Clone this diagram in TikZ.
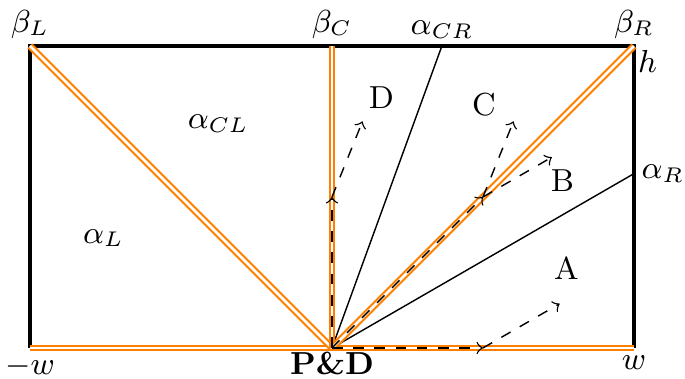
\documentclass[tikz,border=0pt]{standalone}
\usetikzlibrary{calc, arrows.meta}
\definecolor{wallor}{HTML}{FF8000}

\begin{document}
\begin{tikzpicture}[font=\small, >=to,
  wall/.style={draw=wallor, double=white, line width=0.6pt, double distance=0.75pt},
  ray/.style={line width=0.4pt},
  move/.style={dashed, line width=0.4pt, ->}]
\useasboundingbox (-3.298,-0.308) rectangle (3.507,3.457);

% corners and wall points
\coordinate (PD) at (0,0);
\coordinate (ML) at (-3,0);
\coordinate (MR) at (3,0);
\coordinate (BL) at (-3,3);
\coordinate (BC) at (0,3);
\coordinate (BR) at (3,3);
\coordinate (ACR) at ({3*tan(20)},3);
\coordinate (AR) at (3,{3*tan(30)});

% box
\draw[line width=0.9pt] (ML) -- (BL) -- (BR) -- (MR);

% rays
\draw[ray] (PD) -- (ACR);
\draw[ray] (PD) -- (AR);

% walls
\draw[wall] (ML) -- (MR);
\draw[wall] (PD) -- (BL);
\draw[wall] (PD) -- (BC);
\draw[wall] (PD) -- (BR);

% moves
\coordinate (mD) at (0,1.5);
\coordinate (mC) at (1.5,1.5);
\coordinate (mA) at (1.5,0);
\coordinate (eD) at ($(mD)+(68:0.81)$);
\coordinate (eC) at ($(mC)+(68:0.81)$);
\coordinate (eB) at ($(mC)+(30:0.79)$);
\coordinate (eA) at ($(mA)+(30:0.88)$);
\draw[move] (PD) -- (mD);
\draw[move] (mD) -- (eD);
\draw[move] (PD) -- (mC);
\draw[move] (mC) -- (eC);
\draw[move] (mC) -- (eB);
\draw[move] (PD) -- (mA);
\draw[move] (mA) -- (eA);

% labels
\node[above, inner sep=2pt] (lBL) at (BL) {$\beta_L$};
\node[above, inner sep=2pt] (lBC) at (BC) {$\beta_C$};
\node[above, inner sep=2pt] (lACR) at (ACR) {$\alpha_{CR}$};
\node[above, inner sep=2pt] (lBR) at (BR) {$\beta_R$};
\node[below right, inner sep=1pt] (lh) at (BR) {$h$};
\node[right, inner sep=2pt] (lAR) at (AR) {$\alpha_R$};
\node[below, inner sep=2pt] (lML) at (ML) {$-w$};
\node[below, inner sep=1pt] (lPD) at (PD) {\textbf{P\&D}};
\node[below, inner sep=2pt] (lMR) at (MR) {$w$};
\node (lD) at (0.49,2.49) {D};
\node (lC) at (1.51,2.42) {C};
\node (lB) at (2.29,1.66) {B};
\node (lA) at (2.33,0.79) {A};
\node (lCL) at (-1.13,2.23) {$\alpha_{CL}$};
\node (lL) at (-2.27,1.09) {$\alpha_L$};
\end{tikzpicture}
\end{document}
